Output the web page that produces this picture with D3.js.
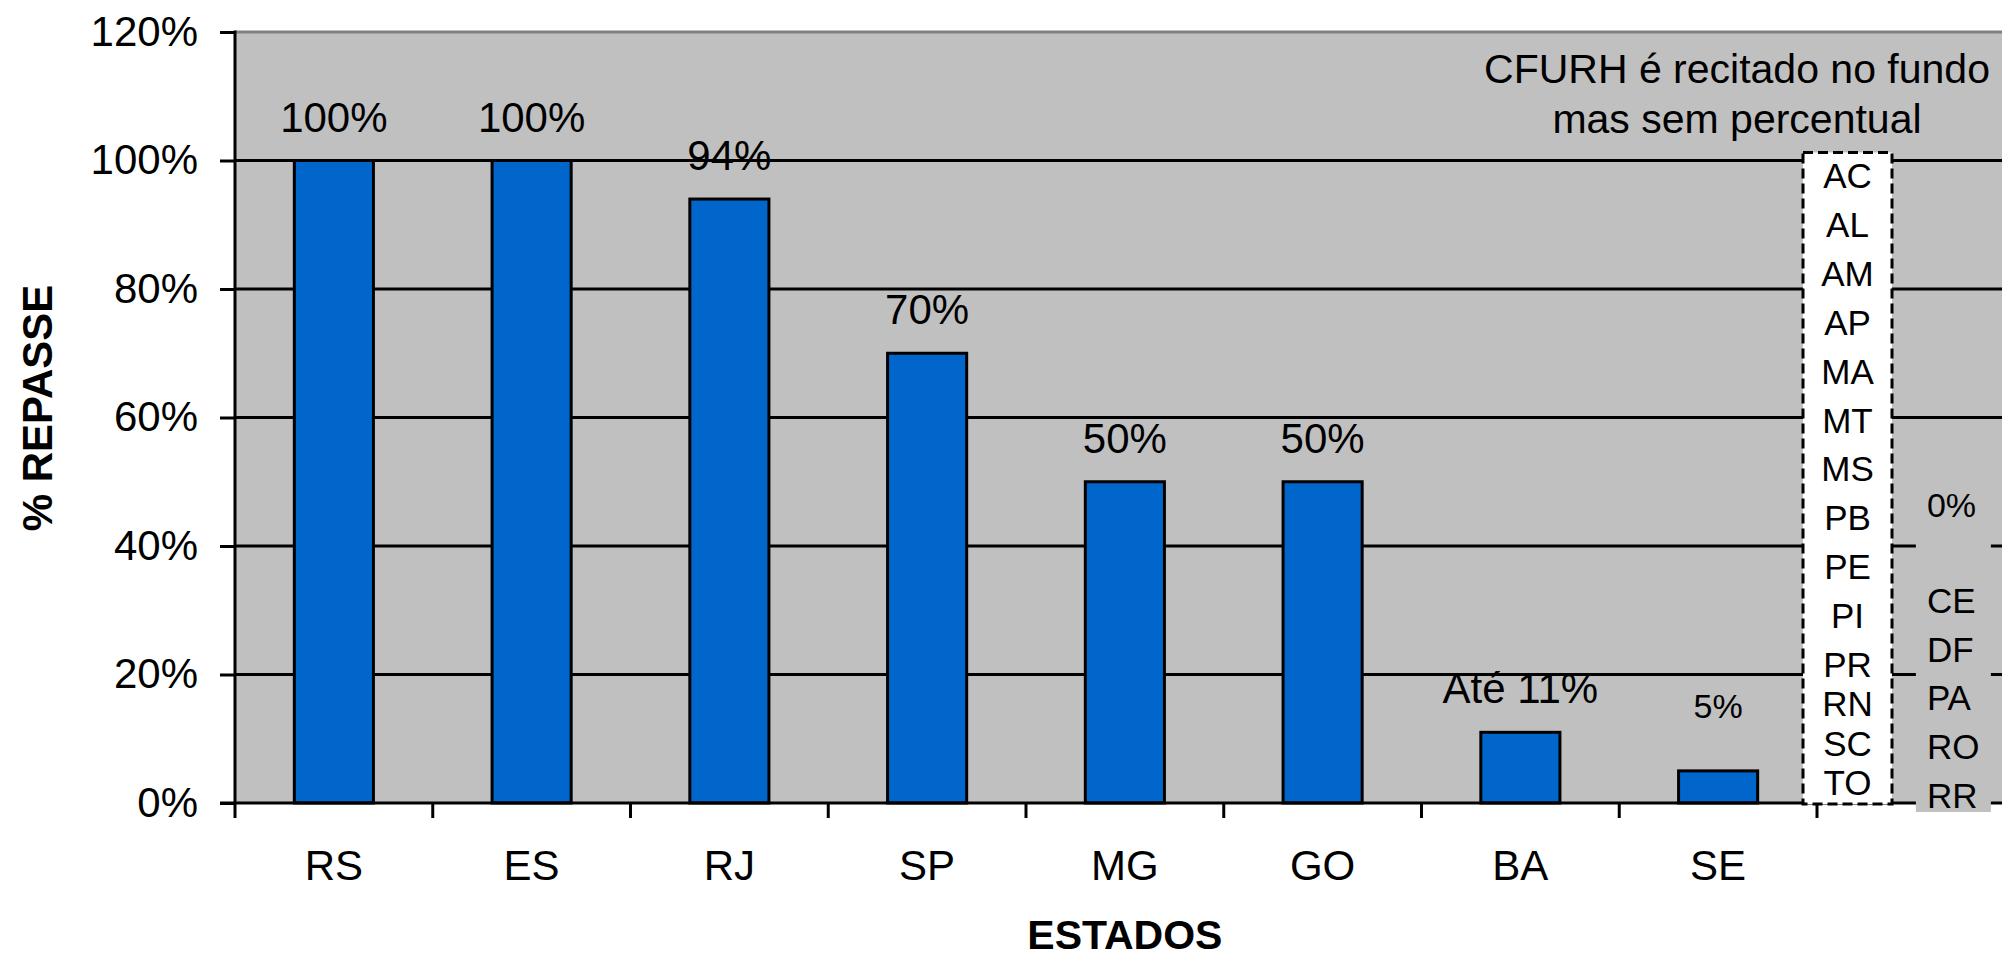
<!DOCTYPE html>
<html>
<head>
<meta charset="utf-8">
<script src="https://cdn.jsdelivr.net/npm/d3@7"></script>
<style>
  html, body { margin: 0; padding: 0; background: #ffffff; overflow: hidden; }
  svg { display: block; font-family: "Liberation Sans", Arial, sans-serif; }
</style>
</head>
<body>
<svg id="chart" width="2002" height="958"></svg>
<script>
// Percentual de repasse do CFURH por estado
const states = ["RS", "ES", "RJ", "SP", "MG", "GO", "BA", "SE"];
const repasse = [1.00, 1.00, 0.94, 0.70, 0.50, 0.50, 0.11, 0.05];
const valueLabels = ["100%", "100%", "94%", "70%", "50%", "50%", "Até 11%", "5%"];
const yTicks = [0, 0.2, 0.4, 0.6, 0.8, 1.0, 1.2];

// States where the CFURH goes to the fund with no fixed share
const semPercentual = ["AC", "AL", "AM", "AP", "MA", "MT", "MS", "PB", "PE", "PI", "PR", "RN", "SC", "TO"];
// States with no transfer at all
const zeroLabel = "0%";
const zeroStates = ["CE", "DF", "PA", "RO", "RR"];
const noteLines = ["CFURH é recitado no fundo", "mas sem percentual"];

// Category slots on the x axis: the states plus one slot for the boxed lists
const slots = states.concat(["outros"]);

const W = 2002, H = 958;
const plotLeft = 235, slotStep = 197.75, plotBottom = 803, plotTop = 32;

const svg = d3.select("#chart");

const x = d3.scaleBand()
  .domain(slots)
  .range([plotLeft, plotLeft + slotStep * slots.length])
  .paddingInner(0).paddingOuter(0);

const y = d3.scaleLinear()
  .domain([0, 1.2])
  .range([plotBottom, plotTop]);

const bw = x.bandwidth();

// Plot area background
svg.append("rect")
  .attr("x", plotLeft).attr("y", y(1.2))
  .attr("width", W - plotLeft).attr("height", y(0) - y(1.2))
  .attr("fill", "#c0c0c0");

// Horizontal gridlines
svg.append("g").selectAll("line")
  .data(yTicks.filter(d => d > 0 && d < 1.2))
  .join("line")
  .attr("x1", plotLeft).attr("x2", W)
  .attr("y1", d => y(d)).attr("y2", d => y(d))
  .attr("stroke", "#000").attr("stroke-width", 3);

// Top border of plot area
svg.append("line")
  .attr("x1", plotLeft).attr("x2", W)
  .attr("y1", y(1.2)).attr("y2", y(1.2))
  .attr("stroke", "#808080").attr("stroke-width", 3);

// Bars
const data = states.map((s, i) => ({ state: s, value: repasse[i], label: valueLabels[i] }));

svg.append("g").selectAll("rect")
  .data(data)
  .join("rect")
  .attr("x", d => x(d.state) + bw * 0.3)
  .attr("width", bw * 0.4)
  .attr("y", d => y(d.value))
  .attr("height", d => y(0) - y(d.value))
  .attr("fill", "#0066cc")
  .attr("stroke", "#000")
  .attr("stroke-width", 3);

// Value labels above the bars (the smallest bar carries a smaller, raised label)
svg.append("g").selectAll("text")
  .data(data)
  .join("text")
  .attr("x", d => x(d.state) + bw / 2)
  .attr("y", d => y(d.value) - (d.state === "SE" ? 53 : 29))
  .attr("text-anchor", "middle")
  .attr("font-size", d => d.state === "SE" ? 34 : 42)
  .attr("fill", "#000")
  .text(d => d.label);

// Y axis
const yAxis = svg.append("g")
  .attr("transform", `translate(${plotLeft},0)`)
  .call(d3.axisLeft(y).tickValues(yTicks).tickFormat(d3.format(".0%"))
    .tickSize(15).tickSizeOuter(0).tickPadding(22));
yAxis.select(".domain").remove();
yAxis.selectAll(".tick line").attr("stroke", "#000").attr("stroke-width", 3);
yAxis.selectAll(".tick text")
  .attr("font-size", 42)
  .attr("font-family", "Liberation Sans, Arial, sans-serif")
  .attr("fill", "#000");
svg.append("line")
  .attr("x1", plotLeft).attr("x2", plotLeft)
  .attr("y1", y(1.2) - 1.5).attr("y2", y(0) + 1.5)
  .attr("stroke", "#000").attr("stroke-width", 3);

// X axis: labels centred in each slot, tick marks between slots
const xAxis = svg.append("g")
  .attr("transform", `translate(0,${plotBottom})`)
  .call(d3.axisBottom(x).tickFormat(d => states.includes(d) ? d : "")
    .tickSize(0).tickSizeOuter(0).tickPadding(47));
xAxis.select(".domain").remove();
xAxis.selectAll(".tick text")
  .attr("font-size", 42)
  .attr("font-family", "Liberation Sans, Arial, sans-serif")
  .attr("fill", "#000");

svg.append("g").selectAll("line")
  .data(slots)
  .join("line")
  .attr("x1", d => x(d)).attr("x2", d => x(d))
  .attr("y1", plotBottom).attr("y2", plotBottom + 15)
  .attr("stroke", "#000").attr("stroke-width", 3);

svg.append("line")
  .attr("x1", plotLeft - 15).attr("x2", W)
  .attr("y1", y(0)).attr("y2", y(0))
  .attr("stroke", "#000").attr("stroke-width", 3);

// Axis titles
svg.append("text")
  .attr("transform", `translate(52,408) rotate(-90)`)
  .attr("text-anchor", "middle")
  .attr("font-size", 42)
  .attr("font-weight", "bold")
  .attr("fill", "#000")
  .text("% REPASSE");

svg.append("text")
  .attr("x", (x.range()[0] + x.range()[1]) / 2)
  .attr("y", 949)
  .attr("text-anchor", "middle")
  .attr("font-size", 41)
  .attr("font-weight", "bold")
  .attr("fill", "#000")
  .text("ESTADOS");

// Note above the boxed lists
svg.append("g").selectAll("text")
  .data(noteLines)
  .join("text")
  .attr("x", 1737)
  .attr("y", (d, i) => 83 + i * 50)
  .attr("text-anchor", "middle")
  .attr("font-size", 41)
  .attr("fill", "#000")
  .text(d => d);

// Dashed box listing states with no fixed share
const ox = x("outros");
const boxTop = y(1) - 8, boxBottom = y(0) + 1;
svg.append("rect")
  .attr("x", ox - 14).attr("y", boxTop)
  .attr("width", 89).attr("height", boxBottom - boxTop)
  .attr("fill", "#fff")
  .attr("stroke", "#000")
  .attr("stroke-width", 3)
  .attr("stroke-dasharray", "10,5");

svg.append("g").selectAll("text")
  .data(semPercentual)
  .join("text")
  .attr("x", ox - 14 + 44.5)
  .attr("y", (d, i) => i <= 10 ? 188 + i * 48.9 : 188 + 10 * 48.9 + (i - 10) * 39.3)
  .attr("text-anchor", "middle")
  .attr("font-size", 35)
  .attr("fill", "#000")
  .text(d => d);

// Grey panel listing states with no transfer
const gx = ox + bw / 2;
svg.append("defs").append("clipPath").attr("id", "zeroClip")
  .append("rect").attr("x", gx).attr("y", y(0.55)).attr("width", 75).attr("height", y(0) + 9 - y(0.55));
svg.append("rect")
  .attr("x", gx).attr("y", y(0.55))
  .attr("width", 75).attr("height", y(0) + 9 - y(0.55))
  .attr("fill", "#c0c0c0");

svg.append("text")
  .attr("x", gx + 11).attr("y", 517)
  .attr("font-size", 34)
  .attr("fill", "#000")
  .text(zeroLabel);

svg.append("g").attr("clip-path", "url(#zeroClip)")
  .selectAll("text")
  .data(zeroStates)
  .join("text")
  .attr("x", gx + 11)
  .attr("y", (d, i) => 613 + i * 48.7)
  .attr("font-size", 35)
  .attr("fill", "#000")
  .text(d => d);
</script>
</body>
</html>
